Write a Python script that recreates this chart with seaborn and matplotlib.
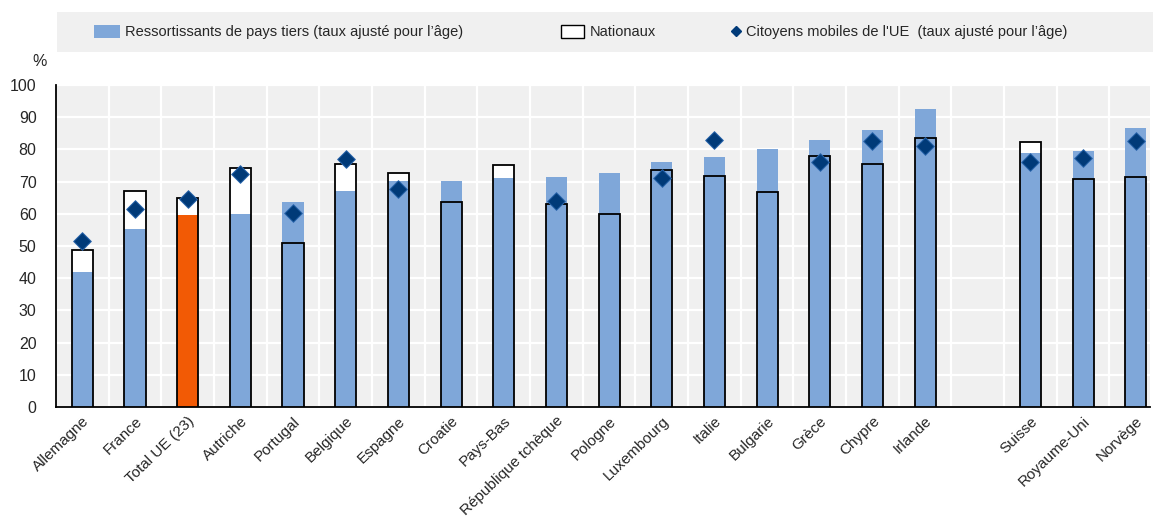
import numpy as np
import pandas as pd
import matplotlib
matplotlib.use("Agg")
import matplotlib.pyplot as plt
import seaborn as sns
from matplotlib.patches import Patch, Rectangle
from matplotlib.lines import Line2D

# data ("" = empty slot between EU and non-EU countries)
pays = ["Allemagne", "France", "Total UE (23)", "Autriche", "Portugal", "Belgique",
        "Espagne", "Croatie", "Pays-Bas", "République tchèque", "Pologne",
        "Luxembourg", "Italie", "Bulgarie", "Grèce", "Chypre", "Irlande", "",
        "Suisse", "Royaume-Uni", "Norvège"]
tiers = [42.0, 55.2, 59.6, 59.9, 63.7, 67.1, 70.2, 70.3, 71.1, 71.4, 72.8,
         76.1, 77.7, 80.1, 82.9, 86.0, 92.7, np.nan, 78.9, 79.6, 86.5]
nationaux = [48.7, 67.1, 65.0, 74.1, 50.9, 75.4, 72.8, 63.8, 75.2, 63.1, 59.9,
             73.7, 71.8, 66.8, 78.0, 75.6, 83.6, np.nan, 82.3, 70.7, 71.3]
mobiles_ue = [51.6, 61.4, 64.5, 72.3, 60.3, 76.9, 67.7, np.nan, np.nan, 64.0, np.nan,
              71.2, 82.8, np.nan, 76.0, 82.7, 81.2, np.nan, 76.2, 77.3, 82.6]

BLUE = "#7fa7d9"
ORANGE = "#f25a05"
NAVY = "#003a78"
BG = "#f0f0f0"

df = pd.DataFrame({"pays": pays, "tiers": tiers, "nationaux": nationaux, "ue": mobiles_ue})

sns.set_theme(style="white")
plt.rcParams["font.family"] = ["Liberation Sans", "DejaVu Sans"]

W, H = 1153, 524
fig = plt.figure(figsize=(W / 100, H / 100), dpi=100)
ax = fig.add_axes([56 / W, 1 - 407 / H, (1150 - 56) / W, (407 - 85) / H])
ax.set_facecolor(BG)

# white fill of the "nationaux" bars (behind)
sns.barplot(data=df, x="pays", y="nationaux", order=pays, color="white",
            saturation=1, width=0.4, errorbar=None, linewidth=0, ax=ax, zorder=2)
# third-country bars
pal = {p: BLUE for p in pays}
pal["Total UE (23)"] = ORANGE
sns.barplot(data=df, x="pays", y="tiers", order=pays, hue="pays", palette=pal,
            legend=False, saturation=1, width=0.4, errorbar=None, linewidth=0,
            ax=ax, zorder=3)
# outline of the "nationaux" bars (front)
sns.barplot(data=df, x="pays", y="nationaux", order=pays, fill=False, color="black",
            width=0.4, errorbar=None, linewidth=1.3, ax=ax, zorder=4)
# EU mobile citizens
sns.stripplot(data=df, x="pays", y="ue", order=pays, jitter=False, marker="D",
              size=9, color=NAVY, edgecolor="#2a66ad", linewidth=0.7, ax=ax, zorder=5)

ax.set_xlim(-0.5, 20.27)
ax.set_ylim(0, 100)
ax.set_yticks(range(0, 101, 10))
ax.set_xlabel("")
ax.set_ylabel("")

ax.set_xticks(np.arange(0.5, 20, 1), minor=True)
ax.grid(axis="x", which="minor", color="white", linewidth=1.6, zorder=0)
ax.grid(axis="y", which="major", color="white", linewidth=1.6, zorder=0)
ax.set_axisbelow(True)

ax.tick_params(axis="x", which="major", length=0, pad=5, labelsize=11)
ax.tick_params(axis="x", which="minor", direction="in", length=4, width=1.3, color="black")
ax.tick_params(axis="y", direction="in", length=5, width=1.3, color="black",
               pad=14, labelsize=11.5)
for lab in ax.get_xticklabels():
    lab.set_rotation(44)
    lab.set_ha("right")
    lab.set_rotation_mode("anchor")

for s in ["top", "right"]:
    ax.spines[s].set_visible(False)
for s in ["left", "bottom"]:
    ax.spines[s].set_color("black")
    ax.spines[s].set_linewidth(1.3)

# legend band with three separately placed entries
fig.patches.append(Rectangle((57 / W, 1 - 52 / H), (W - 57) / W, 40 / H,
                             transform=fig.transFigure, facecolor=BG,
                             edgecolor="none", zorder=0))
entries = [
    (Patch(facecolor=BLUE, edgecolor="none"),
     "Ressortissants de pays tiers (taux ajusté pour l’âge)", 94, 1.8),
    (Patch(facecolor="white", edgecolor="black", linewidth=1),
     "Nationaux", 561, 1.6),
    (Line2D([], [], marker="D", color=NAVY, linestyle="none", markersize=5.5),
     "Citoyens mobiles de l'UE  (taux ajusté pour l’âge)", 731, 0.7),
]
for handle, label, x0, hl in entries:
    fig.legend([handle], [label], loc="center left", bbox_to_anchor=(x0 / W, 1 - 32 / H),
               frameon=False, fontsize=10.5, handlelength=hl, handleheight=1.0,
               handletextpad=0.35, borderpad=0, borderaxespad=0)

fig.text(40 / W, 1 - 62 / H, "%", ha="center", va="center", fontsize=11.5)

fig.savefig("out.png", dpi=100)
